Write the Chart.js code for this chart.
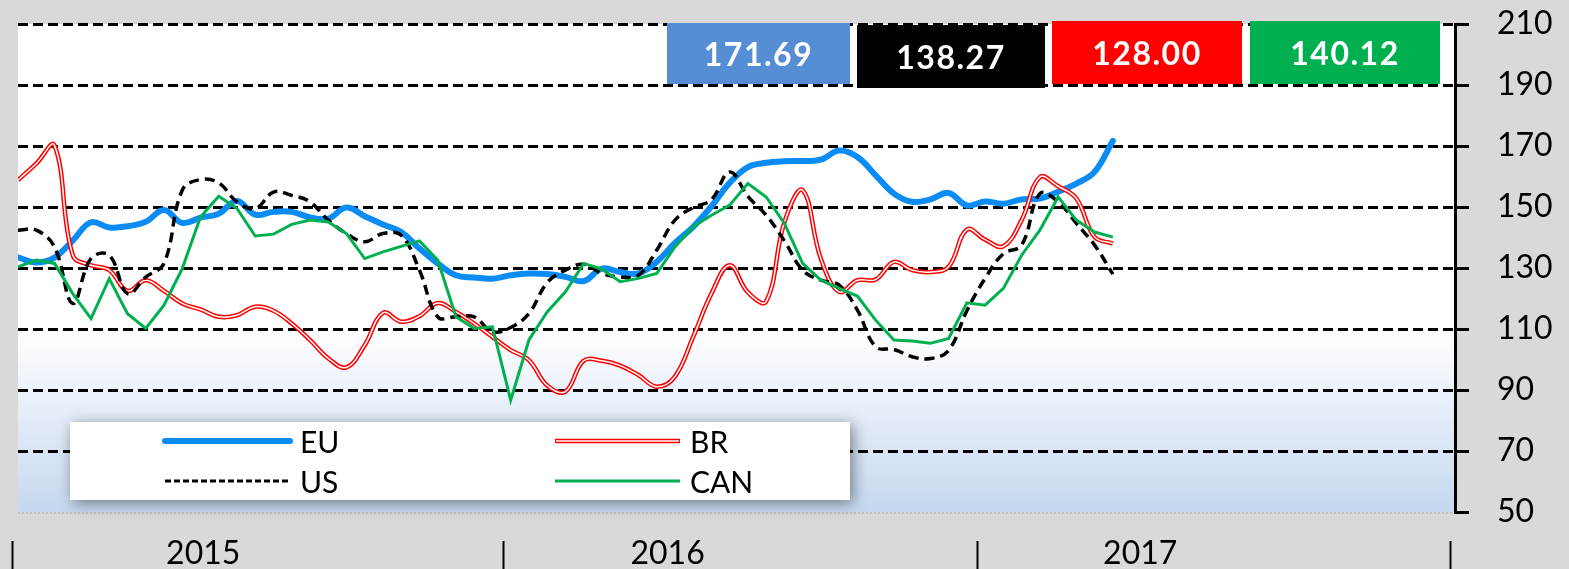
<!DOCTYPE html>
<html>
<head>
<meta charset="utf-8">
<script src="https://cdn.jsdelivr.net/npm/chart.js@4.4.1/dist/chart.umd.min.js"></script>
<style>
    html, body { margin: 0; padding: 0; background: #d9d9d9; overflow: hidden; }
    canvas { display: block; }
</style>
</head>
<body>
<canvas id="priceChart" width="1569" height="569"></canvas>
<script>
// ============================================
// Weekly price index EU / BR / US / CAN, 2015 - 2017
// ============================================

// week number counted from the first data point (every 2nd week)
const weeks = [0, 2, 4, 6, 8, 10, 12, 14, 16, 18, 20, 22, 24, 26, 28, 30, 32, 34, 36, 38, 40,
    42, 44, 46, 48, 50, 52, 54, 56, 58, 60, 62, 64, 66, 68, 70, 72, 74, 76, 78, 80,
    82, 84, 86, 88, 90, 92, 94, 96, 98, 100, 102, 104, 106, 108, 110, 112, 114, 116, 118, 120];

const euValues = [133.5, 131.8, 133.4, 139, 145, 143.3, 143.7, 145.2, 149, 144.8, 146.5, 147.8, 152, 147.5, 148.4, 148.4, 146.6, 146.2, 149.8, 147, 144.3,
    141.8, 136.4, 131.5, 127.6, 126.9, 126.5, 127.6, 128.2, 128, 127.1, 125.7, 129.8, 128.7, 128.2, 132, 138.2, 143.5, 150.2, 157.9, 163.1,
    164.5, 165, 165.1, 165.5, 168.5, 166.4, 160.4, 154.4, 151.7, 152.5, 154.6, 150.5, 151.8, 151.1, 152.5, 152.8, 155, 157.7, 161.5, 171.69];

const usValues = [142.4, 142.4, 136.9, 118.4, 133.1, 134.2, 121.6, 127, 131.5, 155.5, 159, 157.9, 151.7, 149.5, 154.9, 153.8, 151.7, 145.7, 141.3, 138.6, 141.3,
    140.7, 129.3, 114, 114, 114, 109.1, 110.5, 115.1, 125.2, 129.3, 131.2, 128.2, 127.1, 127.6, 135.8, 145.7, 149.8, 152.4, 161.5, 153.5,
    147.3, 138.9, 129.3, 126, 124.4, 116.2, 104.2, 103.3, 100.9, 100.3, 103, 116, 126.6, 134.7, 137.5, 154.4, 151.7, 144.6, 137.5, 128];

const brValues = [158.8, 164.2, 170.2, 134.2, 130.9, 129.3, 122.5, 126, 122.5, 118.4, 116.4, 114, 114.5, 117.3, 116, 111.8, 106.4, 100.4, 97.4, 104.7, 115.3,
    112.4, 114.2, 118.5, 115.6, 111.8, 107.4, 103.1, 99.8, 91.5, 89.5, 99.6, 99.6, 98, 94.9, 91.1, 94.4, 107.4, 121.6, 130.9, 122,
    119, 145, 155.5, 133, 122.2, 126, 126.2, 132, 129.3, 128.7, 130.4, 142.6, 139.3, 137.1, 145.7, 159.8, 156.8, 152.8, 140.2, 138];

const canValues = [130.4, 132.6, 131.5, 121.6, 113.4, 126.5, 115, 110.2, 117.8, 129.8, 146.7, 153.5, 149.5, 140.5, 141.1, 144.3, 145.7, 145.1, 141.3, 133.1, 135.3,
    137.1, 138.9, 132.6, 114, 110.2, 110.7, 86.7, 106.4, 115.6, 122.2, 131.5, 129.6, 125.5, 126.6, 128.2, 136.9, 143.5, 147.3, 150.6, 157.7,
    153.3, 144.6, 131.5, 126, 123.3, 120.8, 112.9, 106.4, 106.1, 105.3, 106.9, 118.6, 117.8, 123.3, 134.2, 142.4, 153.3, 145.7, 141.8, 140.12];

const yearLabels = ['2015', '2016', '2017'];
const yearLabelWeeks = [20.3, 71.2, 123];
const yearStartWeeks = [-0.66, 53.16, 105.1, 156.95];

const boxTexts = ['171.69', '138.27', '128.00', '140.12'];
const boxColors = ['#558ed5', '#000000', '#ff0000', '#00b050'];

const FONT = '"Lato", "Liberation Sans", sans-serif';

(function () {
    // --- background: grey canvas, white -> light blue plot area ---
    const backgroundPlugin = {
        id: 'background',
        beforeDraw(chart) {
            const { ctx, chartArea: a } = chart;
            ctx.save();
            ctx.fillStyle = '#d9d9d9';
            ctx.fillRect(0, 0, chart.width, chart.height);
            const g = ctx.createLinearGradient(0, 330, 0, a.bottom);
            g.addColorStop(0, '#ffffff');
            g.addColorStop(1, '#c5d8f0');
            ctx.fillStyle = g;
            ctx.fillRect(a.left, a.top, a.right - a.left, a.bottom - a.top);
            // dotted plot bottom
            ctx.strokeStyle = '#bdbdbd';
            ctx.lineWidth = 2;
            ctx.setLineDash([2, 2]);
            ctx.beginPath();
            ctx.moveTo(a.left, a.bottom + 1);
            ctx.lineTo(a.right, a.bottom + 1);
            ctx.stroke();
            ctx.restore();
        }
    };

    // --- legend, value boxes, year separators ---
    const overlayPlugin = {
        id: 'overlay',
        afterDraw(chart) {
            const { ctx } = chart;
            const xs = chart.scales.x;

            // year separators
            ctx.save();
            ctx.strokeStyle = '#000';
            ctx.lineWidth = 2;
            yearStartWeeks.forEach(w => {
                const px = Math.round(xs.getPixelForValue(w)) + 0.5;
                ctx.beginPath();
                ctx.moveTo(px, 541);
                ctx.lineTo(px, 569);
                ctx.stroke();
            });
            ctx.restore();

            // value boxes
            const boxes = [[667, 23, 183, 61], [857, 25, 188, 63], [1052, 21, 190, 63], [1250, 21, 190, 63]];
            ctx.save();
            ctx.font = 'bold 32px ' + FONT;
            ctx.textAlign = 'center';
            ctx.textBaseline = 'middle';
            if ('letterSpacing' in ctx) ctx.letterSpacing = '1.5px';
            boxes.forEach((b, i) => {
                ctx.fillStyle = boxColors[i];
                ctx.fillRect(b[0], b[1], b[2], b[3]);
                ctx.fillStyle = '#fff';
                ctx.fillText(boxTexts[i], b[0] + b[2] / 2, b[1] + b[3] / 2 + 2);
            });
            ctx.restore();

            // legend box
            ctx.save();
            ctx.shadowColor = 'rgba(0,0,0,0.45)';
            ctx.shadowBlur = 14;
            ctx.shadowOffsetX = 3;
            ctx.shadowOffsetY = 3;
            ctx.fillStyle = '#fff';
            ctx.fillRect(70, 422, 780, 78);
            ctx.restore();

            const cols = [165, 555];
            const rows = [441, 481];
            const items = chart.data.datasets.filter(d => d.inLegend);
            ctx.save();
            ctx.font = '30px ' + FONT;
            ctx.textBaseline = 'middle';
            ctx.fillStyle = '#000';
            items.forEach((d, i) => {
                const x = cols[i % 2];
                const y = rows[Math.floor(i / 2)];
                ctx.save();
                ctx.strokeStyle = d.borderColor;
                ctx.lineWidth = d.legendWidth || d.borderWidth;
                ctx.lineCap = d.borderCapStyle || 'butt';
                ctx.setLineDash(d.legendDash || []);
                ctx.beginPath();
                ctx.moveTo(x, y);
                ctx.lineTo(x + 125, y);
                ctx.stroke();
                if (d.innerColor) {
                    ctx.strokeStyle = d.innerColor;
                    ctx.lineWidth = 1.5;
                    ctx.beginPath();
                    ctx.moveTo(x + 1, y);
                    ctx.lineTo(x + 124, y);
                    ctx.stroke();
                }
                ctx.restore();
                ctx.fillText(d.label, x + 135, y + 2);
            });
            ctx.restore();
        }
    };

    new Chart(document.getElementById('priceChart'), {
        type: 'line',
        data: {
            labels: weeks,
            datasets: [
                {
                    label: 'EU', data: euValues, inLegend: true,
                    borderColor: '#0b8cf5', borderWidth: 6, borderCapStyle: 'round',
                    tension: 0.4, order: 5
                },
                {
                    label: 'BR', data: brValues, inLegend: true, innerColor: '#ffffff',
                    borderColor: '#ff0000', borderWidth: 4.5, legendWidth: 4.5,
                    tension: 0.4, order: 4
                },
                {
                    label: 'BR inner', data: brValues, inLegend: false,
                    borderColor: '#ffffff', borderWidth: 1.5,
                    tension: 0.4, order: 3
                },
                {
                    label: 'US', data: usValues, inLegend: true,
                    borderColor: '#000000', borderWidth: 3.5, borderDash: [10, 6],
                    legendWidth: 3, legendDash: [6, 3],
                    tension: 0.4, order: 2
                },
                {
                    label: 'CAN', data: canValues, inLegend: true,
                    borderColor: '#00b050', borderWidth: 3,
                    tension: 0, order: 1
                }
            ]
        },
        options: {
            responsive: false,
            animation: false,
            layout: { padding: { left: 18, top: 24, right: 0, bottom: 0 } },
            elements: { point: { radius: 0 } },
            plugins: {
                legend: { display: false },
                tooltip: { enabled: false }
            },
            scales: {
                x: {
                    type: 'linear',
                    min: 0,
                    max: 157.5,
                    grid: { display: false, drawTicks: false },
                    border: { display: false },
                    afterBuildTicks: s => { s.ticks = yearLabelWeeks.map(v => ({ value: v })); },
                    afterFit: s => { s.height = 57; s.paddingLeft = 0; s.paddingRight = 0; },
                    ticks: {
                        autoSkip: false,
                        maxRotation: 0,
                        padding: 22,
                        color: '#000',
                        font: { family: FONT, size: 32 },
                        callback: (v, i) => yearLabels[i]
                    }
                },
                y: {
                    position: 'right',
                    min: 50,
                    max: 210,
                    afterFit: s => { s.width = 114; s.paddingTop = 0; s.paddingBottom = 0; },
                    grid: {
                        color: c => (c.tick && c.tick.value === 50) ? 'rgba(0,0,0,0)' : '#000',
                        lineWidth: 3,
                        tickColor: '#000',
                        tickWidth: 3,
                        tickLength: 14
                    },
                    border: { display: true, color: '#000', width: 3, dash: [10, 5] },
                    ticks: {
                        stepSize: 20,
                        padding: 28,
                        color: '#000',
                        font: { family: FONT, size: 32 }
                    }
                }
            }
        },
        plugins: [backgroundPlugin, overlayPlugin]
    });
})();
</script>
</body>
</html>
